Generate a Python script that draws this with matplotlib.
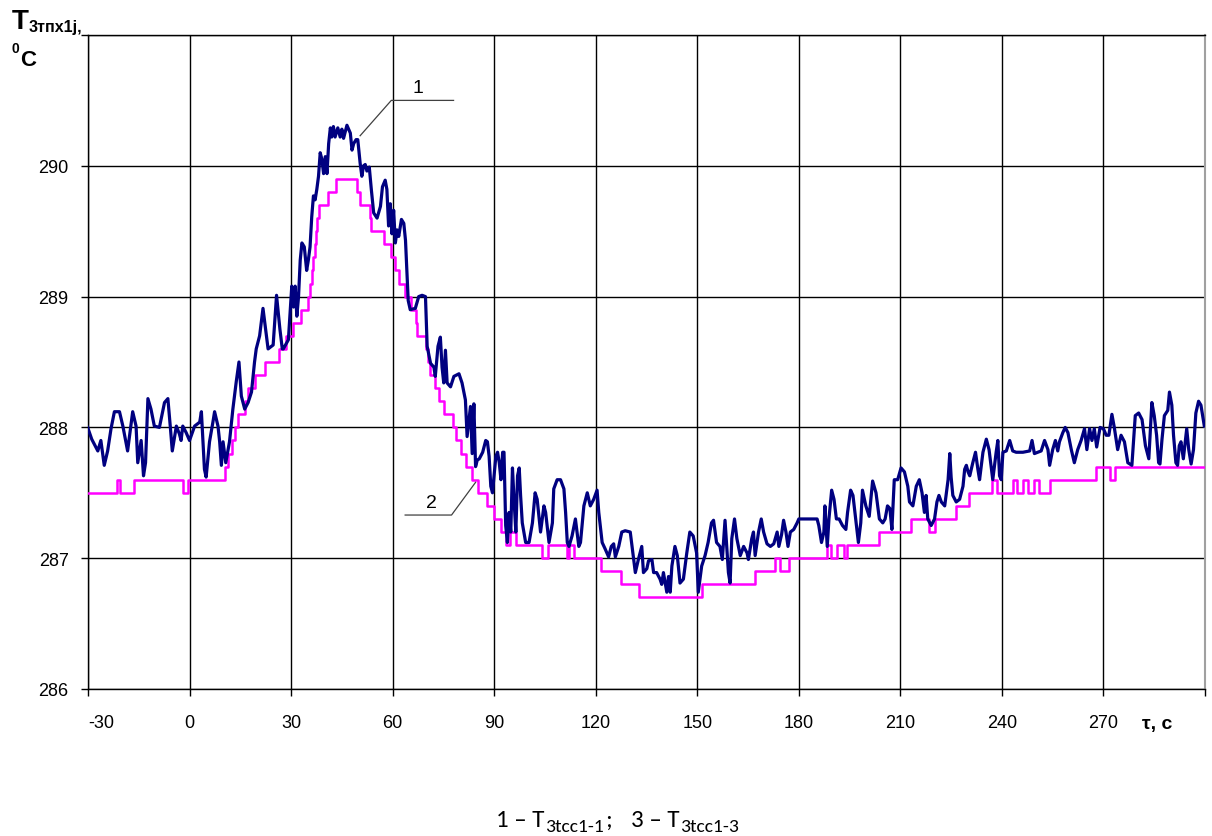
import numpy as np
import matplotlib.pyplot as plt

# curve 1 (navy): time, s / temperature, C
t1 = [-30.1, -28.9, -27.1, -26.2, -25.2, -24.2, -23.2, -22.2, -20.7, -19.7, -18.3, -16.8, -15.8, -15.3,
      -14.3, -13.6, -13.0, -12.3, -11.4, -10.4, -8.9, -7.4, -6.4, -5.7, -5.1, -3.9, -3.0, -2.5, -2.0,
      -1.0, 0.0, 1.5, 3.0, 3.5, 4.4, 4.9, 5.9, 6.9, 7.4, 8.4, 8.9, 9.4, 9.9, 10.7, 11.8, 12.8, 13.8,
      14.6, 15.3, 16.3, 17.3, 18.3, 19.2, 19.7, 20.7, 21.7, 22.7, 23.2, 24.7, 25.7, 26.7, 27.4,
      27.7, 29.2, 30.2, 30.7, 31.2, 31.7, 32.2, 32.7, 33.2, 33.9, 34.6, 35.1, 35.6, 36.1, 36.6, 37.1,
      37.6, 38.1, 38.6, 39.1, 39.6, 40.1, 40.6, 41.1, 41.6, 42.0, 42.5, 43.0, 43.8, 44.5, 45.0, 45.5,
      46.5, 47.5, 48.0, 48.5, 49.2, 49.7, 50.4, 50.9, 51.4, 51.9, 52.4, 53.1, 53.7, 54.4, 55.4, 56.4,
      57.0, 57.8, 58.3, 58.8, 59.3, 59.8, 60.3, 60.8, 61.3, 61.8, 62.6, 63.3, 63.8, 64.6, 65.2, 66.7,
      67.7, 68.7, 69.7, 70.2, 71.2, 72.2, 72.6, 73.4, 74.1, 74.6, 75.1, 75.6, 76.1, 77.1, 78.1, 79.6,
      80.5, 81.5, 82.0, 83.0, 83.5, 84.0, 84.5, 85.0,
      85.6, 86.6, 87.5, 88.0, 88.5, 89.0, 89.5, 90.5, 91.0, 91.5, 92.0, 92.5, 92.9, 93.4, 93.9, 94.4,
      94.9, 95.4, 95.9, 96.4, 96.9, 97.4, 97.8, 98.3, 99.3, 100.3, 101.3, 102.1, 102.7, 103.7, 104.7,
      105.2, 106.2, 107.2, 107.6, 108.6, 109.6, 110.6, 111.1, 111.6, 112.1, 113.0, 114.0, 115.0, 115.5,
      116.5, 117.5, 118.4, 119.4, 120.4, 120.9, 121.9, 122.8, 123.8, 124.6, 125.3, 125.8, 126.8, 127.7,
      128.7, 130.2, 131.2, 131.7, 132.6, 133.6, 134.1, 135.1, 135.6, 136.6, 137.1, 138.0, 139.0, 139.5,
      140.0, 141.0, 141.5, 142.0, 142.5, 143.4, 144.1, 144.9, 145.9, 146.9, 147.8, 148.8, 149.8, 150.3,
      151.3, 152.3, 153.2, 154.2, 154.8, 155.7, 156.7, 157.4, 158.2, 158.7, 159.2, 159.7, 160.2, 161.0,
      161.7, 162.7, 163.7, 164.7, 165.1, 166.1, 166.6, 167.1, 168.1, 168.9, 169.6, 170.6, 171.6, 172.6,
      173.6, 174.1, 174.9, 175.5, 176.2, 176.8, 177.5, 178.5, 179.5, 180.0, 185.4, 185.9, 186.7, 187.4,
      187.7, 188.4, 188.9, 189.7, 190.4, 191.1, 191.9, 192.9, 193.9, 194.4, 195.3, 196.0, 196.8, 197.6,
      198.3, 198.8, 199.8, 200.8, 201.8, 202.8, 203.8, 204.8, 205.5, 206.2, 206.9, 207.5, 208.2, 209.2,
      210.2, 211.2, 212.2, 212.7, 213.7, 214.7, 215.6, 216.4, 217.1, 217.6, 218.1, 219.1, 220.1, 220.8,
      221.4, 222.1, 223.1, 224.1, 224.6, 225.0, 225.5, 226.5, 227.5, 228.5, 229.0, 229.5, 230.0, 230.5,
      231.4, 232.2, 232.9, 233.4, 234.4, 235.4, 236.2, 236.9, 237.3, 238.3, 238.8, 239.3, 239.8, 240.3,
      241.3, 242.3, 243.2, 244.2, 246.2, 248.2, 248.9, 249.6, 251.6, 252.6, 253.6, 254.1, 255.0, 255.8,
      256.5, 257.0, 258.0, 258.7, 259.5, 260.5, 261.4, 262.4, 263.4, 264.4, 265.1, 265.9, 266.6, 267.3,
      268.0, 269.0, 270.0, 270.8, 271.6, 272.5, 273.2, 274.2, 275.2, 276.2, 277.2, 278.4, 279.4, 280.4,
      281.4, 282.4, 283.4, 284.3, 285.0, 285.7, 286.3, 286.7, 287.3, 288.0, 289.0, 289.5, 290.2, 290.7,
      291.4, 291.9, 292.4, 292.9, 293.6, 294.6, 295.2, 295.9, 296.6, 297.3, 298.1, 298.8, 299.8]
T1 = [288.00, 287.91, 287.82, 287.90, 287.71, 287.82, 287.99, 288.12, 288.12, 288.01, 287.82, 288.12,
      288.01, 287.73, 287.90, 287.63, 287.73, 288.22, 288.14, 288.01, 288.00, 288.19, 288.22, 288.01,
      287.82, 288.01, 287.95, 287.90, 288.01, 287.96, 287.90, 288.01, 288.04, 288.12, 287.68, 287.62,
      287.89, 288.04, 288.12, 288.01, 287.89, 287.71, 287.89, 287.73, 287.89, 288.14, 288.35, 288.50,
      288.24, 288.14, 288.19, 288.27, 288.50, 288.60, 288.70, 288.91, 288.70, 288.60, 288.63, 289.01,
      288.75, 288.60,
      288.60, 288.67, 289.08, 288.92, 289.08, 288.85, 289.00, 289.28, 289.41, 289.38, 289.20, 289.28,
      289.38, 289.61, 289.77, 289.74, 289.82, 289.92, 290.10, 290.05, 289.94, 290.07, 289.94, 290.17,
      290.29, 290.22, 290.30, 290.22, 290.29, 290.22, 290.28, 290.21, 290.31, 290.25, 290.12, 290.17,
      290.20, 290.20, 290.02, 289.92, 290.00, 290.01, 289.96, 289.99, 289.82, 289.64, 289.60, 289.69,
      289.84, 289.89, 289.82, 289.54, 289.71, 289.48, 289.66, 289.41, 289.51, 289.46, 289.59, 289.56,
      289.43, 288.97, 288.90, 288.91, 289.00, 289.01, 289.00, 288.62, 288.49, 288.46, 288.39, 288.62,
      288.69, 288.46, 288.34, 288.59, 288.34, 288.31, 288.39, 288.41, 288.34, 288.21, 287.93, 288.16,
      287.80, 288.18, 287.70, 287.75,
      287.76, 287.81, 287.90, 287.89, 287.78, 287.55, 287.50, 287.78, 287.81, 287.73, 287.60, 287.81,
      287.81, 287.25, 287.12, 287.35, 287.20, 287.69, 287.43, 287.20, 287.63, 287.69, 287.48, 287.27,
      287.12, 287.12, 287.27, 287.50, 287.45, 287.20, 287.40, 287.35, 287.12, 287.27, 287.53, 287.60,
      287.60, 287.53, 287.35, 287.12, 287.09, 287.17, 287.30, 287.09, 287.12, 287.40, 287.50, 287.40,
      287.45, 287.52, 287.35, 287.12, 287.07, 287.01, 287.09, 287.11, 287.01, 287.09, 287.20, 287.21,
      287.20, 286.99, 286.89, 286.99, 287.09, 286.89, 286.92, 286.98, 286.99, 286.89, 286.89, 286.84,
      286.80, 286.89, 286.74, 286.86, 286.74, 286.94, 287.09, 287.02, 286.81, 286.84, 287.04, 287.20,
      287.17, 287.04, 286.74, 286.94, 287.02, 287.12, 287.27, 287.29, 287.12, 287.09, 286.99, 287.29,
      287.09, 286.89, 286.81, 287.15, 287.30, 287.15, 287.02, 287.09, 287.04, 286.99, 287.15, 287.20,
      287.02, 287.20, 287.30, 287.20, 287.11, 287.09, 287.11, 287.20, 287.09, 287.18, 287.29, 287.20,
      287.09, 287.20, 287.22, 287.27, 287.30, 287.30, 287.25, 287.12, 287.20, 287.40, 287.09, 287.30,
      287.52, 287.45, 287.30, 287.30, 287.25, 287.22, 287.35, 287.52, 287.48, 287.30, 287.12, 287.27,
      287.52, 287.40, 287.32, 287.59, 287.50, 287.30, 287.27, 287.30, 287.40, 287.38, 287.22, 287.60,
      287.60, 287.69, 287.66, 287.55, 287.43, 287.40, 287.55, 287.60, 287.50, 287.35, 287.48, 287.30,
      287.25, 287.30, 287.43, 287.48, 287.43, 287.40, 287.60, 287.80, 287.62, 287.48, 287.43, 287.45,
      287.55, 287.68, 287.71, 287.66, 287.63, 287.73, 287.81, 287.68, 287.60, 287.81, 287.91, 287.83,
      287.68, 287.60, 287.81, 287.90, 287.63, 287.60, 287.81, 287.82, 287.90, 287.82, 287.81, 287.81,
      287.82, 287.90, 287.80, 287.82, 287.90, 287.83, 287.71, 287.83, 287.90, 287.82, 287.89, 287.96,
      288.00, 287.96, 287.83, 287.73, 287.83, 287.90, 287.99, 287.83, 287.99, 287.90, 287.99, 287.85,
      288.00, 287.99, 287.94, 287.94, 288.10, 288.00, 287.83, 287.94, 287.89, 287.73, 287.71, 288.09,
      288.11, 288.06, 287.86, 287.76, 288.19, 288.09, 287.94, 287.73, 287.72, 287.91, 288.09, 288.13,
      288.27, 288.17, 287.94, 287.73, 287.71, 287.86, 287.89, 287.76, 287.99, 287.83, 287.72, 287.83,
      288.11, 288.20, 288.17, 288.01]

# curve 2 (magenta): stepwise readings, value holds until the next time
t2 = [-30.0, -21.5, -20.5, -16.5, -2.0, -0.5, 10.5, 11.5, 12.5, 13.5, 14.3, 16.5, 17.3, 19.3, 22.2,
      26.5, 28.6, 30.6, 33.0, 35.0, 35.7, 36.1, 36.5, 37.0, 37.4, 37.8, 38.3, 41.0, 43.3, 49.6, 50.4,
      53.2, 53.7, 57.4, 59.4, 60.8, 62.0, 63.8, 65.3, 66.8, 67.3, 70.0, 70.4, 71.0, 72.6, 73.8, 75.3,
      77.8, 78.6, 80.3, 81.8, 83.3, 85.3, 87.8, 89.8, 92.0, 93.4, 94.8, 96.3, 104.2, 105.8, 111.6,
      112.1, 113.6, 121.5, 127.4, 132.9, 151.3, 167.2, 173.0, 174.3, 177.0, 188.4, 189.5, 191.4,
      193.4, 194.2, 203.8, 213.2, 218.6, 220.2, 226.5, 230.2, 237.2, 238.6, 243.3, 244.6, 246.3,
      247.6, 249.6, 250.9, 254.1, 267.8, 271.8, 273.3, 300.0]
T2 = [287.5, 287.6, 287.5, 287.6, 287.5, 287.6, 287.7, 287.8, 287.9, 288.0, 288.1, 288.2, 288.3, 288.4,
      288.5, 288.6, 288.7, 288.8, 288.9, 289.0, 289.1, 289.2, 289.3, 289.4, 289.5, 289.6, 289.7, 289.8,
      289.9, 289.8, 289.7, 289.6, 289.5, 289.4, 289.3, 289.2, 289.1, 289.0, 288.9, 288.8, 288.7, 288.6,
      288.5, 288.4, 288.3, 288.2, 288.1, 288.0, 287.9, 287.8, 287.7, 287.6, 287.5, 287.4, 287.3, 287.2,
      287.1, 287.2, 287.1, 287.0, 287.1, 287.0, 287.1, 287.0, 286.9, 286.8, 286.7, 286.8, 286.9, 287.0,
      286.9, 287.0, 287.1, 287.0, 287.1, 287.0, 287.1, 287.2, 287.3, 287.2, 287.3, 287.4, 287.5, 287.6,
      287.5, 287.6, 287.5, 287.6, 287.5, 287.6, 287.5, 287.6, 287.7, 287.6, 287.7, 287.7]

xticks = [-30, 0, 30, 60, 90, 120, 150, 180, 210, 240, 270, 300]
xlabels = ['-30', '0', '30', '60', '90', '120', '150', '180', '210', '240', '270', '']
yticks = [286, 287, 288, 289, 290, 291]
ylabels = ['286', '287', '288', '289', '290', '']

plt.rcParams['font.family'] = ['Liberation Sans', 'DejaVu Sans']

W, H = 1212, 837
fig = plt.figure(figsize=(W / 100, H / 100), dpi=100)
ax = fig.add_axes([88 / W, 1 - 690 / H, (1205 - 88) / W, (690 - 36) / H])

ax.plot(t2, T2, color='#ff00ff', lw=1.8, drawstyle='steps-post', zorder=3)
ax.plot(t1, T1, color='#000080', lw=2.3, zorder=4)

ax.set_xlim(-30, 300)
ax.set_ylim(286, 291)
ax.set_xticks(xticks)
ax.set_xticklabels(xlabels)
ax.set_yticks(yticks)
ax.set_yticklabels(ylabels)
ax.grid(True, color='black', lw=1.0)
ax.set_axisbelow(True)
ax.tick_params(direction='out', length=5, width=1.0, labelsize=13, pad=9, colors='black')
ax.tick_params(axis='x', pad=13)
for s in ['left', 'bottom', 'top']:
    ax.spines[s].set_color('black')
    ax.spines[s].set_linewidth(1.0)
ax.spines['right'].set_color('#a0a0a0')
ax.spines['right'].set_linewidth(1.5)
ax.get_xticklabels()[0].set_horizontalalignment('left')

# callouts for the curve numbers
lc = '#404040'
ax.plot([50.4, 59.6, 78.0], [290.23, 290.50, 290.50], color=lc, lw=0.9, zorder=5, clip_on=False)
ax.text(67.6, 290.53, '1', fontsize=14, ha='center', va='bottom')
ax.plot([84.5, 77.4, 63.7], [287.58, 287.33, 287.33], color=lc, lw=0.9, zorder=5, clip_on=False)
ax.text(71.5, 287.36, '2', fontsize=14, ha='center', va='bottom')

# axis titles
fig.text(12 / W, 1 - 29 / H, 'T', fontsize=20, fontweight='bold', ha='left', va='baseline')
fig.text(29 / W, 1 - 32 / H, '3тпх1j,', fontsize=11.5, fontweight='bold', ha='left', va='baseline')
fig.text(12 / W, 1 - 53 / H, '0', fontsize=10, fontweight='bold', ha='left', va='baseline')
fig.text(20 / W, 1 - 66 / H, 'C', fontsize=16, fontweight='bold', ha='left', va='baseline')
fig.text(1157 / W, 1 - 729 / H, 'τ, с', fontsize=14, fontweight='bold', ha='center', va='baseline')

# legend line under the chart, pieces laid out one after another
cap = [('1 – T', 18, 0, 1), ('3tcc1-1', 14, 5, 1), (';', 18, 0, 19),
       ('3 – T', 18, 0, 1), ('3tcc1-3', 14, 5, 0)]
renderer = fig.canvas.get_renderer()
x = 496
for s, fs, dy, gap in cap:
    txt = fig.text(x / W, 1 - (827 + dy) / H, s, fontsize=fs, ha='left', va='baseline',
                   family=['Carlito', 'Lato', 'DejaVu Sans'])
    x = txt.get_window_extent(renderer).x1 + gap

fig.savefig('out.png', dpi=100)
